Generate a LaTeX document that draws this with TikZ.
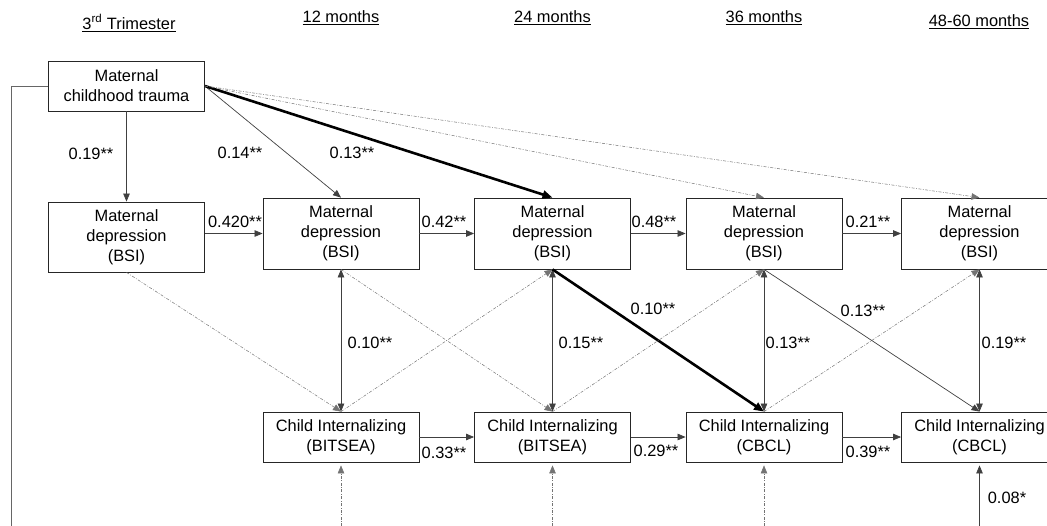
\documentclass[tikz,border=0pt]{standalone}
\usepackage{fontspec}
\setmainfont{Liberation Sans}
\usetikzlibrary{arrows.meta}

\begin{document}
\begin{tikzpicture}[x=1pt,y=-1pt,font=\fontsize{16.4}{20}\selectfont]
        \tikzstyle{box}=[draw=black!85,line width=0.8pt,minimum width=156pt,align=center,inner sep=0pt]
        \tikzstyle{mdbox}=[box,minimum height=71pt]
        \tikzstyle{cibox}=[box,minimum height=50pt]
        \tikzstyle{lbl}=[inner sep=0pt]
        \tikzstyle{sig}=[draw=black!75,line width=0.7pt,-{Triangle[length=8pt,width=6.5pt]}]
        \tikzstyle{ns}=[sig,draw=black!55,line width=0.5pt,dash pattern=on 3pt off 1.5pt on 0.8pt off 1.5pt]
        \tikzstyle{strong}=[sig,draw=black,line width=2.6pt,-{Triangle[length=10pt,width=8pt]}]
        \tikzstyle{both}=[sig,{Triangle[length=8pt,width=6.5pt]}-{Triangle[length=8pt,width=6.5pt]}]
        \clip (0,0) rectangle (1047,525);
        % time points
        \foreach \i/\x/\y/\t in {0/129/23/{3\textsuperscript{rd} Trimester},1/341/18/{12 months},2/552.5/18/{24 months},3/764/18/{36 months},4/979/22/{48-60 months}}
            \node (h\i) at (\x,\y) {\underline{\t}};
        % boxes
        \node[cibox] (trauma) at (126.5,86) {Maternal\\childhood trauma};
        \node[mdbox,minimum height=70pt] (md0) at (126.5,237) {Maternal\\depression\\(BSI)};
        \foreach \i/\x/\m in {1/341/BITSEA,2/552.5/BITSEA,3/764/CBCL,4/979.5/CBCL} {
            \node[mdbox] (md\i) at (\x,233.5) {Maternal\\depression\\(BSI)};
            \node[cibox] (ci\i) at (\x,437) {Child Internalizing\\(\m)};
        }
        % paths from trauma
        \draw[draw=black!60,line width=0.7pt] (trauma.west) -| (11,540);
        \draw[sig] (trauma) -- (md0);
        \draw[sig] (trauma.east) -- (md1.north);
        \draw[strong] (trauma.east) -- (md2.north);
        \draw[ns] (trauma.east) -- (md3.north);
        \draw[ns] (trauma.east) -- (md4.north);
        % stability and covariances
        \draw[sig] (md0.east |- md1.west) -- (md1.west);
        \foreach \a/\b in {1/2,2/3,3/4} {
            \draw[sig] (md\a) -- (md\b);
            \draw[sig] (ci\a) -- (ci\b);
        }
        \foreach \i in {1,...,4}
            \draw[both] (md\i) -- (ci\i);
        % cross-lagged
        \draw[ns] (md0.south) -- (ci1.north);
        \draw[ns] (md1.south) -- (ci2.north);
        \draw[ns] (ci1.north) -- (md2.south);
        \draw[strong] (md2.south) -- (ci3.north);
        \draw[ns] (ci2.north) -- (md3.south);
        \draw[sig] (md3.south) -- (ci4.north);
        \draw[ns] (ci3.north) -- (md4.south);
        % covariates from below
        \foreach \i in {1,...,4}
            \coordinate (in\i) at (ci\i.south |- 0,540);
        \foreach \i in {1,2,3}
            \draw[ns] (in\i) -- ([yshift=-3pt]ci\i.south);
        \draw[sig] (in4) -- ([yshift=-3pt]ci4.south);
        % estimates
        \node[lbl] (e1) at (91,154) {0.19**};
        \node[lbl] (e2) at (240,153) {0.14**};
        \node[lbl] (e3) at (352,153) {0.13**};
        \node[lbl] (e4) at (235,222) {0.420**};
        \node[lbl] (e5) at (444,222) {0.42**};
        \node[lbl] (e6) at (654,222) {0.48**};
        \node[lbl] (e7) at (868,222) {0.21**};
        \node[lbl] (e8) at (370,343) {0.10**};
        \node[lbl] (e9) at (581,343) {0.15**};
        \node[lbl] (e10) at (788,343) {0.13**};
        \node[lbl] (e11) at (1004,343) {0.19**};
        \node[lbl] (e12) at (653,309) {0.10**};
        \node[lbl] (e13) at (863,311) {0.13**};
        \node[lbl] (e14) at (444,453) {0.33**};
        \node[lbl] (e15) at (656,451) {0.29**};
        \node[lbl] (e16) at (868,452) {0.39**};
        \node[lbl] (e17) at (1007,498) {0.08*};
    \end{tikzpicture}
\end{document}
